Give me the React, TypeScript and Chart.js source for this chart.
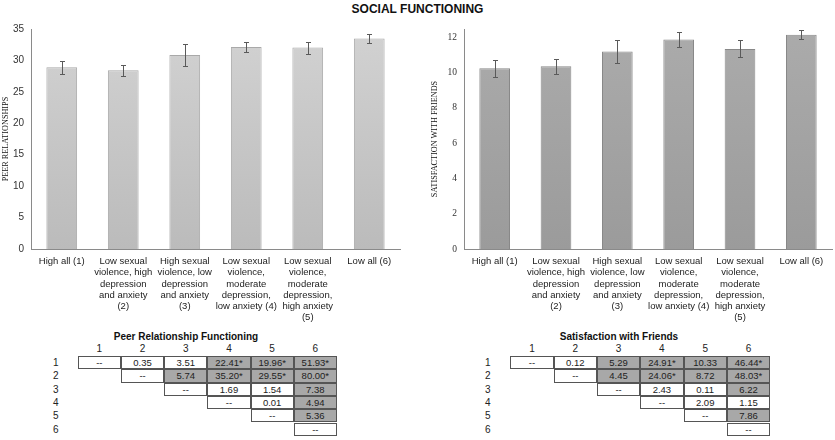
import React, { useEffect, useRef } from 'react';
import { Chart, registerables } from 'chart.js';

Chart.register(...registerables);

// ---------- data ----------
const chartTitle = 'SOCIAL FUNCTIONING';
const categories: string[][] = [
  ['High all (1)'],
  ['Low sexual', 'violence, high', 'depression', 'and anxiety', '(2)'],
  ['High sexual', 'violence, low', 'depression', 'and anxiety', '(3)'],
  ['Low sexual', 'violence,', 'moderate', 'depression,', 'low anxiety (4)'],
  ['Low sexual', 'violence,', 'moderate', 'depression,', 'high anxiety', '(5)'],
  ['Low all (6)'],
];
const peerMeans = [28.9, 28.45, 30.85, 32.15, 32.05, 33.5];
const peerErrors = [1.05, 0.9, 1.75, 0.85, 0.95, 0.7];
const peerTickValues = [0, 5, 10, 15, 20, 25, 30, 35];
const peerAxisTitle = 'PEER RELATIONSHIPS';

const friendsMeans = [10.24, 10.36, 11.2, 11.87, 11.34, 12.15];
const friendsErrors = [0.47, 0.43, 0.67, 0.42, 0.48, 0.27];
const friendsTickValues = [0, 2, 4, 6, 8, 10, 12];
const friendsAxisTitle = 'SATISFACTION WITH FRIENDS';

const groupLabels = ['1', '2', '3', '4', '5', '6'];

const peerTableTitle = 'Peer Relationship Functioning';
const peerTable: string[][] = [
  ['--', '0.35', '3.51', '22.41*', '19.96*', '51.93*'],
  ['--', '5.74', '35.20*', '29.55*', '80.00*'],
  ['--', '1.69', '1.54', '7.38'],
  ['--', '0.01', '4.94'],
  ['--', '5.36'],
  ['--'],
];
const peerShaded: number[][] = [
  [0, 0, 0, 1, 1, 1],
  [0, 1, 1, 1, 1],
  [0, 0, 0, 1],
  [0, 0, 1],
  [0, 1],
  [0],
];

const friendsTableTitle = 'Satisfaction with Friends';
const friendsTable: string[][] = [
  ['--', '0.12', '5.29', '24.91*', '10.33', '46.44*'],
  ['--', '4.45', '24.06*', '8.72', '48.03*'],
  ['--', '2.43', '0.11', '6.22'],
  ['--', '2.09', '1.15'],
  ['--', '7.86'],
  ['--'],
];
const friendsShaded: number[][] = [
  [0, 0, 1, 1, 1, 1],
  [0, 1, 1, 1, 1],
  [0, 0, 0, 1],
  [0, 0, 0],
  [0, 1],
  [0],
];

// ---------- chart panel ----------
type PanelProps = {
  left: number;
  means: number[];
  errors: number[];
  ticks: number[];
  yMax: number;
  axisTitle: string;
  axisWidth: number;
  padRight: number;
  tickFont: any;
  titlePad: number;
  gradTop: string;
  gradBottom: string;
  border: string;
};

function BarPanel(p: PanelProps) {
  const ref = useRef<HTMLCanvasElement | null>(null);
  useEffect(() => {
    if (!ref.current) return;
    const errorPlugin = {
      id: 'errorBars',
      afterDatasetsDraw(chart: any) {
        const ctx = chart.ctx;
        const meta = chart.getDatasetMeta(0);
        const ys = chart.scales.y;
        const data = chart.data.datasets[0].data as number[];
        ctx.save();
        ctx.strokeStyle = '#5a5a5a';
        ctx.lineWidth = 1;
        meta.data.forEach((bar: any, i: number) => {
          const x = Math.round(bar.x) + 0.5;
          const t = Math.round(ys.getPixelForValue(data[i] + p.errors[i])) + 0.5;
          const b = Math.round(ys.getPixelForValue(data[i] - p.errors[i])) + 0.5;
          ctx.beginPath();
          ctx.moveTo(x, t);
          ctx.lineTo(x, b);
          ctx.moveTo(x - 2.5, t);
          ctx.lineTo(x + 2.5, t);
          ctx.moveTo(x - 2.5, b);
          ctx.lineTo(x + 2.5, b);
          ctx.stroke();
        });
        ctx.restore();
      },
    };
    const chart = new Chart(ref.current, {
      type: 'bar',
      data: {
        labels: categories,
        datasets: [
          {
            data: p.means,
            backgroundColor: (c: any) => {
              const area = c.chart.chartArea;
              if (!area) return p.gradBottom;
              const g = c.chart.ctx.createLinearGradient(0, area.top, 0, area.bottom);
              g.addColorStop(0, p.gradTop);
              g.addColorStop(1, p.gradBottom);
              return g;
            },
            borderColor: p.border,
            borderWidth: 1,
            barPercentage: 0.5,
            categoryPercentage: 1,
          },
        ],
      },
      options: {
        responsive: false,
        animation: false,
        layout: { padding: { top: 29, right: p.padRight, left: 0, bottom: 0 } },
        plugins: { legend: { display: false }, tooltip: { enabled: false }, title: { display: false } },
        scales: {
          x: {
            grid: { display: false, drawTicks: false },
            border: { display: true, color: '#8a8a8a', width: 1 },
            ticks: {
              autoSkip: false,
              maxRotation: 0,
              minRotation: 0,
              padding: 7,
              color: '#222',
              font: { family: 'Liberation Sans, Arial, sans-serif', size: 9.5, lineHeight: 1.18 },
            },
            afterFit: (s: any) => {
              s.height = 76;
            },
          },
          y: {
            min: 0,
            max: p.yMax,
            grid: { display: false, drawTicks: false },
            border: { display: true, color: '#8a8a8a', width: 1 },
            afterBuildTicks: (s: any) => {
              s.ticks = p.ticks.map((v) => ({ value: v }));
            },
            ticks: { padding: 7, color: '#333', font: p.tickFont },
            title: {
              display: true,
              text: p.axisTitle,
              color: '#111',
              padding: { top: p.titlePad, bottom: 0 },
              font: { family: 'Liberation Serif, Times New Roman, serif', size: 8.2, lineHeight: 1.2 },
            },
            afterFit: (s: any) => {
              s.width = p.axisWidth;
            },
          },
        },
      },
      plugins: [errorPlugin],
    } as any);
    return () => chart.destroy();
  }, []);
  return (
    <canvas
      ref={ref}
      width={415}
      height={325}
      style={{ position: 'absolute', left: p.left, top: 0, width: 415, height: 325 }}
    />
  );
}

// ---------- table ----------
type TableProps = {
  title: string;
  titleX: number;
  colLefts: number[];
  cellW: number;
  rowTop: number;
  rowH: number;
  rowLabelX: number;
  values: string[][];
  shaded: number[][];
};

const tableFont = 'Liberation Sans, Arial, sans-serif';

function PairTable(t: TableProps) {
  const items: any[] = [];
  items.push(
    <div
      key="title"
      style={{
        position: 'absolute',
        left: t.titleX - 100,
        width: 200,
        top: 331,
        textAlign: 'center',
        font: `bold 10px ${tableFont}`,
        color: '#111',
        whiteSpace: 'nowrap',
      }}
    >
      {t.title}
    </div>
  );
  groupLabels.forEach((g, j) => {
    items.push(
      <div
        key={'h' + j}
        style={{
          position: 'absolute',
          left: t.colLefts[j],
          width: t.cellW,
          top: 343,
          textAlign: 'center',
          font: `10px ${tableFont}`,
          color: '#222',
        }}
      >
        {g}
      </div>
    );
  });
  groupLabels.forEach((g, i) => {
    items.push(
      <div
        key={'r' + i}
        style={{
          position: 'absolute',
          left: t.rowLabelX,
          top: t.rowTop + i * t.rowH,
          font: `10px ${tableFont}`,
          color: '#222',
          lineHeight: t.rowH + 'px',
        }}
      >
        {g}
      </div>
    );
    t.values[i].forEach((v, k) => {
      const j = i + k;
      items.push(
        <div
          key={'c' + i + '-' + k}
          style={{
            position: 'absolute',
            left: t.colLefts[j],
            top: t.rowTop + i * t.rowH,
            width: t.cellW,
            height: t.rowH,
            boxSizing: 'border-box',
            border: '1px solid #555',
            background: t.shaded[i][k] ? '#a8a8a8' : '#fff',
            textAlign: 'center',
            font: `9.5px ${tableFont}`,
            lineHeight: t.rowH - 2 + 'px',
            color: '#222',
          }}
        >
          {v}
        </div>
      );
    });
  });
  return <>{items}</>;
}

export default function App() {
  return (
    <div
      style={{
        position: 'absolute',
        left: 0,
        top: 0,
        width: 835,
        height: 440,
        background: '#fff',
        overflow: 'hidden',
      }}
    >
      <div
        style={{
          position: 'absolute',
          left: 0,
          width: 835,
          top: 2,
          textAlign: 'center',
          font: 'bold 12px Liberation Sans, Arial, sans-serif',
          color: '#111',
        }}
      >
        {chartTitle}
      </div>
      <BarPanel
        left={0}
        means={peerMeans}
        errors={peerErrors}
        ticks={peerTickValues}
        yMax={35}
        axisTitle={peerAxisTitle}
        axisWidth={31}
        padRight={15}
        tickFont={{ family: 'Liberation Sans, Arial, sans-serif', size: 10 }}
        titlePad={1}
        gradTop="#d2d2d2"
        gradBottom="#bbbbbb"
        border="#a9a9a9"
      />
      <BarPanel
        left={420}
        means={friendsMeans}
        errors={friendsErrors}
        ticks={friendsTickValues}
        yMax={12.47}
        axisTitle={friendsAxisTitle}
        axisWidth={44}
        padRight={3}
        tickFont={{ family: 'Liberation Serif, Times New Roman, serif', size: 9.5 }}
        titlePad={10}
        gradTop="#ababab"
        gradBottom="#9b9b9b"
        border="#888888"
      />
      <PairTable
        title={peerTableTitle}
        titleX={186}
        colLefts={[77.7, 120.9, 164.1, 207.3, 250.5, 293.7]}
        cellW={43.3}
        rowTop={356}
        rowH={13.3}
        rowLabelX={53}
        values={peerTable}
        shaded={peerShaded}
      />
      <PairTable
        title={friendsTableTitle}
        titleX={619}
        colLefts={[510.3, 553.6, 596.9, 640.2, 683.5, 726.8]}
        cellW={43.4}
        rowTop={356}
        rowH={13.3}
        rowLabelX={485}
        values={friendsTable}
        shaded={friendsShaded}
      />
    </div>
  );
}
